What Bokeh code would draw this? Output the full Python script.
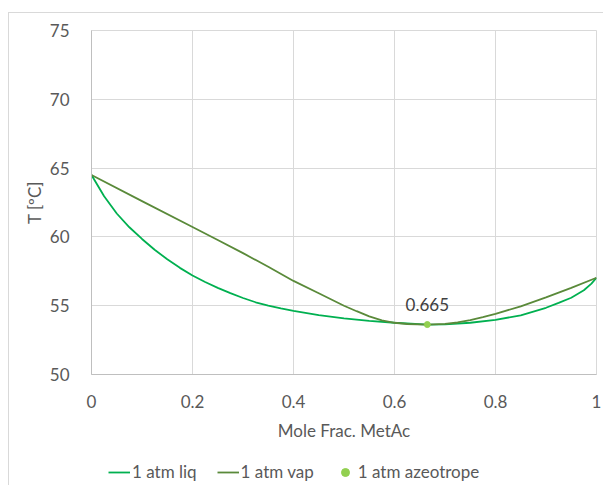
from bokeh.plotting import figure
from bokeh.layouts import column
from bokeh.models import Range1d, FixedTicker, Legend, LegendItem, ColumnDataSource
from bokeh.core.properties import value
from bokeh.embed import file_html
from bokeh.resources import INLINE

# Liquid (bubble) curve: T vs x
liq_x = [0.0, 0.025, 0.05, 0.075, 0.1, 0.125, 0.15, 0.175, 0.2, 0.225, 0.25, 0.275, 0.3, 0.325,
         0.35, 0.375, 0.4, 0.45, 0.5, 0.55, 0.6, 0.665, 0.7, 0.75, 0.8, 0.85, 0.9, 0.925, 0.95,
         0.975, 0.99, 1.0]
liq_T = [64.5, 62.95, 61.7, 60.7, 59.85, 59.07, 58.37, 57.75, 57.2, 56.72, 56.3, 55.91, 55.56, 55.25,
         55.0, 54.8, 54.62, 54.32, 54.08, 53.9, 53.76, 53.63, 53.64, 53.76, 53.97, 54.3, 54.85, 55.2,
         55.58, 56.12, 56.6, 57.03]

# Vapour (dew) curve: T vs y
vap_y = [0.0, 0.1, 0.2, 0.25, 0.3, 0.35, 0.4, 0.45, 0.5, 0.525, 0.55, 0.575, 0.6, 0.625, 0.665,
         0.7, 0.725, 0.75, 0.775, 0.8, 0.85, 0.9, 0.95, 1.0]
vap_T = [64.5, 62.6, 60.72, 59.78, 58.82, 57.83, 56.8, 55.9, 55.0, 54.6, 54.22, 53.93, 53.76, 53.67,
         53.63, 53.68, 53.78, 53.95, 54.17, 54.41, 54.95, 55.6, 56.3, 57.03]

# Azeotrope
az_x = [0.665]
az_T = [53.63]
az_label = ["0.665"]

series_names = ["1 atm liq", "1 atm vap", "1 atm azeotrope"]

x_ticks = [0, 0.2, 0.4, 0.6, 0.8, 1.0]
x_tick_labels = ["0", "0.2", "0.4", "0.6", "0.8", "1"]
y_ticks = [50, 55, 60, 65, 70, 75]

FONT = "Lato"
TXT = "#595959"
GRID = "#d9d9d9"
C_LIQ, C_VAP, C_AZ = "#00b050", "#5a8a3a", "#92d050"

p = figure(output_backend="svg", toolbar_location=None,
           x_range=Range1d(0, 1), y_range=Range1d(50, 75),
           frame_width=505, frame_height=344,
           min_border_left=82, min_border_right=8, min_border_top=17, min_border_bottom=80)
p.background_fill_color = "white"
p.border_fill_color = "white"
p.outline_line_color = GRID

p.xaxis.ticker = FixedTicker(ticks=x_ticks)
p.xaxis.major_label_overrides = {t: l for t, l in zip(x_ticks, x_tick_labels)}
p.yaxis.ticker = FixedTicker(ticks=y_ticks)
for ax in (p.xaxis, p.yaxis):
    ax.major_tick_line_color = None
    ax.minor_tick_line_color = None
    ax.axis_line_color = "#bfbfbf"
    ax.major_label_text_font = FONT
    ax.major_label_text_font_size = "17px"
    ax.major_label_text_color = TXT
    ax.axis_label_text_font = FONT
    ax.axis_label_text_font_size = "17px"
    ax.axis_label_text_color = TXT
    ax.axis_label_text_font_style = "normal"
p.xaxis.axis_label = "Mole Frac. MetAc"
p.yaxis.axis_label = "T [ºC]"
p.xaxis.major_label_standoff = 14
p.yaxis.major_label_standoff = 16
p.xaxis.axis_label_standoff = 9
p.yaxis.axis_label_standoff = 2

p.xgrid.ticker = FixedTicker(ticks=x_ticks)
p.ygrid.ticker = FixedTicker(ticks=y_ticks)
p.grid.grid_line_color = GRID
p.grid.grid_line_width = 1

p.line(liq_x, liq_T, line_color=C_LIQ, line_width=1.8)
p.line(vap_y, vap_T, line_color=C_VAP, line_width=1.8)
az_src = ColumnDataSource(dict(x=az_x, y=az_T, t=az_label))
p.scatter("x", "y", source=az_src, size=6, fill_color=C_AZ, line_color=C_AZ)
p.text("x", "y", text="t", source=az_src, text_font=value(FONT), text_font_size="17px",
       text_color="#404040", text_align="center", text_baseline="bottom", y_offset=-14)

# Legend strip underneath (same series, ranges chosen so only the legend shows)
pl = figure(width=595, height=31, output_backend="svg", toolbar_location=None,
            x_range=Range1d(0, 1), y_range=Range1d(0, 1),
            x_axis_location=None, y_axis_location=None, min_border=0)
pl.grid.visible = False
pl.outline_line_color = None
pl.background_fill_color = "white"
pl.border_fill_color = "white"
l1 = pl.line(liq_x, liq_T, line_color=C_LIQ, line_width=1.8)
l2 = pl.line(vap_y, vap_T, line_color=C_VAP, line_width=1.8)
l3 = pl.scatter(az_x, az_T, size=6, fill_color=C_AZ, line_color=C_AZ)

legend = Legend(items=[LegendItem(label=series_names[0], renderers=[l1]),
                       LegendItem(label=series_names[1], renderers=[l2]),
                       LegendItem(label=series_names[2], renderers=[l3])],
                orientation="horizontal", location=(17, 3))
legend.label_text_font = FONT
legend.label_text_font_size = "17px"
legend.label_text_color = TXT
legend.border_line_color = None
legend.background_fill_alpha = 0
legend.glyph_width = 22
legend.glyph_height = 20
legend.label_standoff = 2
legend.spacing = 20
legend.padding = 0
legend.margin = 0
pl.add_layout(legend)

layout = column(p, pl, spacing=0, margin=(12, 0, 0, 8),
                styles={"border-left": "1px solid #d9d9d9", "border-top": "1px solid #d9d9d9"})

open("out.html", "w").write(file_html(layout, INLINE))
